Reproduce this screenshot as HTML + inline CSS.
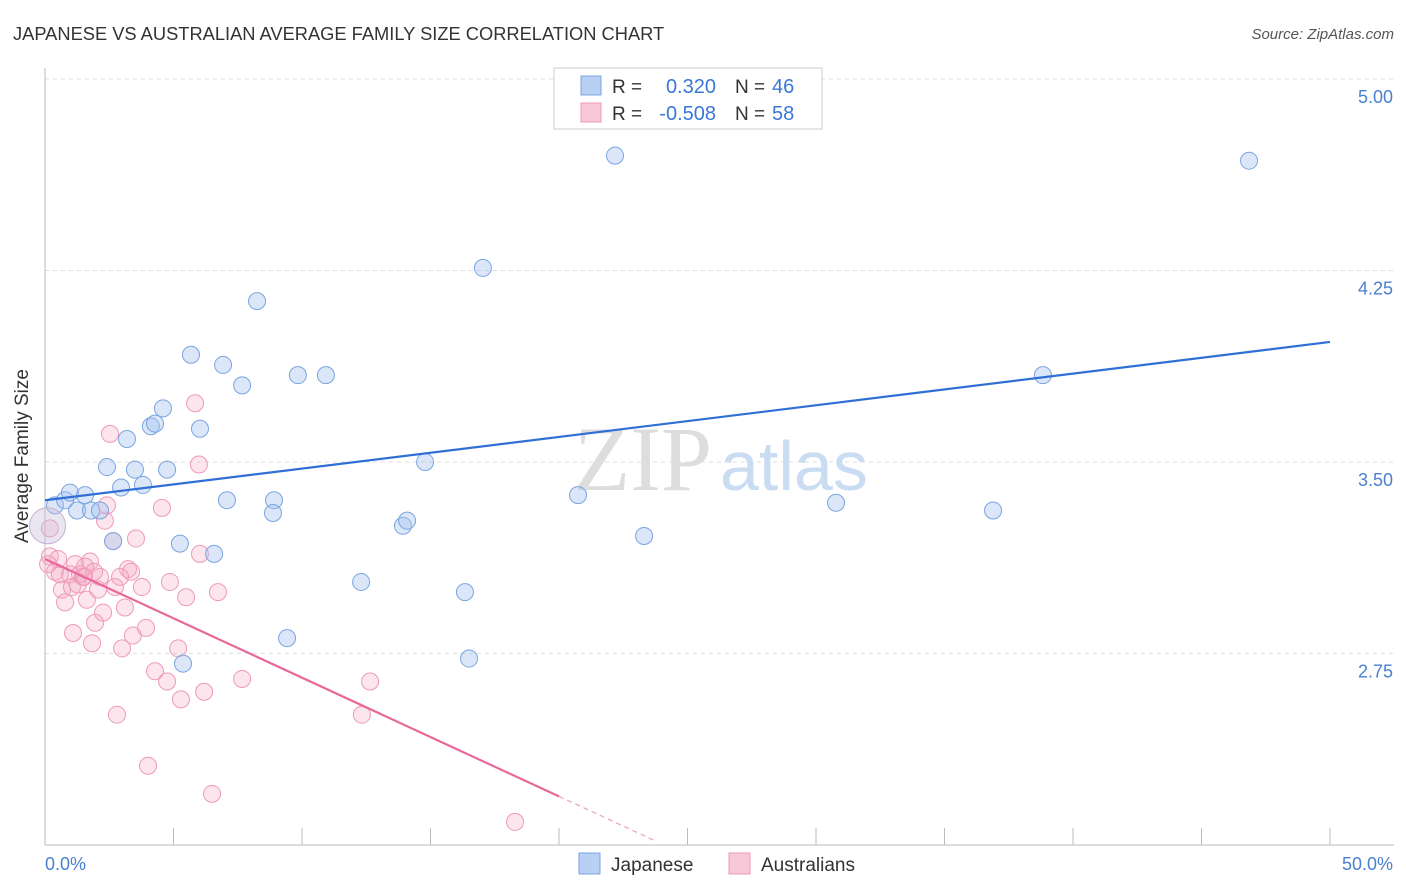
<!DOCTYPE html>
<html><head><meta charset="utf-8"><style>
body{margin:0;background:#fff;font-family:"Liberation Sans",sans-serif;}
svg{display:block}
</style></head><body>
<svg id="chart" width="1406" height="892">
<text x="13" y="40" font-size="18.3" fill="#333">JAPANESE VS AUSTRALIAN AVERAGE FAMILY SIZE CORRELATION CHART</text>
<text x="1394" y="39" font-size="15" fill="#555" font-style="italic" text-anchor="end">Source: ZipAtlas.com</text>
<g id="grid"></g>
<text x="712" y="490" font-size="92" fill="#ddd" text-anchor="end" font-family="Liberation Serif,serif">ZIP</text>
<text x="720" y="490" font-size="70" fill="#c9dcf2">atlas</text>
<g id="points"></g>
<g id="lines"></g>
<text x="28" y="456" font-size="19" fill="#333" text-anchor="middle" transform="rotate(-90 28 456)">Average Family Size</text>
<text x="45" y="870" font-size="18" fill="#4a80d0">0.0%</text>
<text x="1393" y="870" font-size="18" fill="#4a80d0" text-anchor="end">50.0%</text>
<g>
<rect x="554" y="68" width="268" height="61" fill="#fff" stroke="#ccc"/>
<rect x="581" y="76" width="20" height="19" fill="#b8d0f3" stroke="#7aa5e0"/>
<rect x="581" y="103" width="20" height="19" fill="#f9c8d7" stroke="#ee9ab8"/>
<text x="612" y="93" font-size="19" fill="#333">R =</text>
<text x="716" y="93" font-size="20" fill="#3a78d8" text-anchor="end">0.320</text>
<text x="735" y="93" font-size="19" fill="#333">N =</text>
<text x="772" y="93" font-size="20" fill="#3a78d8">46</text>
<text x="612" y="120" font-size="19" fill="#333">R =</text>
<text x="716" y="120" font-size="20" fill="#3a78d8" text-anchor="end">-0.508</text>
<text x="735" y="120" font-size="19" fill="#333">N =</text>
<text x="772" y="120" font-size="20" fill="#3a78d8">58</text>
</g>
<g>
<rect x="579" y="853" width="21" height="21" fill="#b8d0f3" stroke="#7aa5e0"/>
<text x="611" y="871" font-size="19" fill="#333">Japanese</text>
<rect x="729" y="853" width="21" height="21" fill="#f9c8d7" stroke="#ee9ab8"/>
<text x="761" y="871" font-size="19" fill="#333">Australians</text>
</g>
</svg>
<script>
const yTicks=[5.00,4.25,3.50,2.75];
const xTickCount=10;
const japX=[0.39,0.78,0.97,1.25,1.56,1.79,2.14,2.41,2.65,2.96,3.19,3.50,3.81,4.12,4.28,4.59,4.75,5.25,5.68,6.03,6.58,6.93,7.08,7.67,8.25,8.91,8.87,9.42,9.84,10.93,12.30,13.93,14.09,14.79,16.34,16.50,17.04,20.74,22.18,23.31,30.78,36.89,38.83,46.85,5.37];
const japY=[3.33,3.35,3.38,3.31,3.37,3.31,3.31,3.48,3.19,3.40,3.59,3.47,3.41,3.64,3.65,3.71,3.47,3.18,3.92,3.63,3.14,3.88,3.35,3.80,4.13,3.35,3.30,2.81,3.84,3.84,3.03,3.25,3.27,3.50,2.99,2.73,4.26,3.37,4.70,3.21,3.34,3.31,3.84,4.68,2.71];
const ausX=[0.19,0.39,0.51,0.66,0.78,0.97,1.05,1.09,1.17,1.28,1.36,1.48,1.63,1.75,1.83,1.95,2.06,2.14,2.26,2.33,2.41,2.53,2.65,2.72,2.80,3.00,3.11,3.23,3.35,3.42,3.54,3.77,3.93,4.01,4.28,4.55,4.75,4.86,5.18,5.29,5.49,5.84,5.99,6.03,6.19,6.50,6.73,7.67,12.33,12.65,18.29,0.19,0.58,1.56,1.91,2.92,0.12,1.52];
const ausY=[3.13,3.07,3.12,3.00,2.95,3.06,3.01,2.83,3.10,3.02,3.06,3.05,2.96,3.11,2.79,2.87,3.00,3.05,2.91,3.27,3.33,3.61,3.19,3.01,2.51,2.77,2.93,3.08,3.07,2.82,3.20,3.01,2.85,2.31,2.68,3.32,2.64,3.03,2.77,2.57,2.97,3.73,3.49,3.14,2.60,2.20,2.99,2.65,2.51,2.64,2.09,3.24,3.06,3.09,3.07,3.05,3.10,3.05];
const japTrend=[3.35,3.97];
const ausTrend=[3.12,2.19,20,23.7];
const NS="http://www.w3.org/2000/svg";
const X=v=>45+v/50*1285;
const Y=v=>79+(5-v)*255.3;
function mk(tag,attrs,parent){const e=document.createElementNS(NS,tag);for(const k in attrs)e.setAttribute(k,attrs[k]);parent.appendChild(e);return e;}
const grid=document.getElementById('grid');
yTicks.forEach(t=>{
 const l=mk('line',{x1:45,x2:1394,y1:Y(t),y2:Y(t),stroke:'#ddd','stroke-dasharray':'4,4'},grid);
 
 
 const tx=mk('text',{x:1393,y:Y(t)+24,'font-size':18,fill:'#4a80d0','text-anchor':'end'},grid);
 tx.textContent=t.toFixed(2);
 
 
});
mk('line',{x1:45,x2:45,y1:68,y2:845,stroke:'#bbb'},grid);
mk('line',{x1:45,x2:1394,y1:845,y2:845,stroke:'#bbb'},grid);
for(let i=0;i<=xTickCount;i++){
 const t=mk('line',{x1:X(i*5),x2:X(i*5),y1:828,y2:845,stroke:'#bbb'},grid);
 
 
}
const pts=document.getElementById('points');
ausX.forEach((x,i)=>{
 const c=mk('circle',{cx:X(x),cy:Y(ausY[i]),r:8.5,fill:'rgba(244,170,195,0.3)',stroke:'#ee9ab8','stroke-width':1},pts);
 
 
});
japX.forEach((x,i)=>{
 const c=mk('circle',{cx:X(x),cy:Y(japY[i]),r:8.5,fill:'rgba(164,194,240,0.4)',stroke:'#7aa5e0','stroke-width':1},pts);
 
 
});
const big=mk('circle',{cx:X(0.1),cy:Y(3.25),r:18,fill:'rgba(200,190,220,0.4)',stroke:'#c9b0d0'},pts);


const lines=document.getElementById('lines');
const bl=mk('line',{x1:X(0),y1:Y(japTrend[0]),x2:X(50),y2:Y(japTrend[1]),stroke:'#2f6fd6','stroke-width':2.2},lines);


const slope=(ausTrend[1]-ausTrend[0])/ausTrend[2];
const pl=mk('line',{x1:X(0),y1:Y(ausTrend[0]),x2:X(ausTrend[2]),y2:Y(ausTrend[1]),stroke:'#e8689a','stroke-width':2.2},lines);


const pd=mk('line',{x1:X(ausTrend[2]),y1:Y(ausTrend[1]),x2:X(ausTrend[3]),y2:Y(ausTrend[0]+slope*ausTrend[3]),stroke:'#e8a0bb','stroke-width':1.2,'stroke-dasharray':'5,4'},lines);


</script>
</body></html>
